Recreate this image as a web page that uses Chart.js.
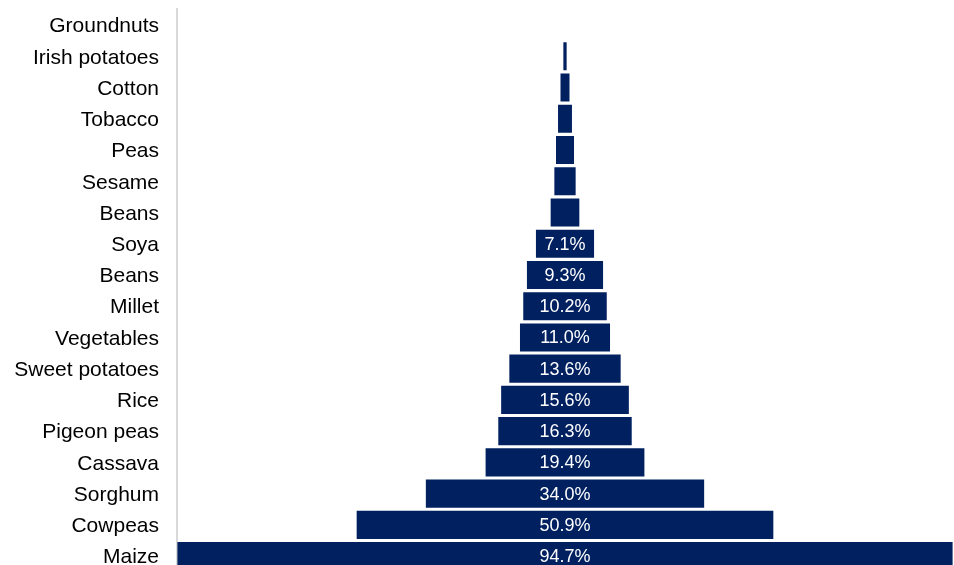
<!DOCTYPE html>
<html>
<head>
<meta charset="utf-8">
<script src="https://cdn.jsdelivr.net/npm/chart.js@4"></script>
<style>
  html, body { margin: 0; padding: 0; background: #fff; overflow: hidden; }
  canvas { display: block; }
</style>
</head>
<body>
<canvas id="funnel-chart" width="954" height="577"></canvas>
<script>
// Crops, top to bottom
const crops = ['Groundnuts', 'Irish potatoes', 'Cotton', 'Tobacco', 'Peas', 'Sesame', 'Beans', 'Soya',
  'Beans', 'Millet', 'Vegetables', 'Sweet potatoes', 'Rice', 'Pigeon peas', 'Cassava', 'Sorghum',
  'Cowpeas', 'Maize'];
// Share (%)
const shares = [0, 0.4, 1.1, 1.7, 2.2, 2.6, 3.5, 7.1, 9.3, 10.2, 11.0, 13.6, 15.6, 16.3, 19.4, 34.0, 50.9, 94.7];
// Only the larger bars carry a label
const labelMin = 7;

// Value labels drawn inside the bars
const barLabels = {
  id: 'barLabels',
  afterDatasetsDraw(chart) {
    const ctx = chart.ctx;
    const meta = chart.getDatasetMeta(0);
    ctx.save();
    ctx.font = '18px "Liberation Sans", Arial, sans-serif';
    ctx.fillStyle = '#ffffff';
    ctx.textAlign = 'center';
    ctx.textBaseline = 'middle';
    meta.data.forEach((bar, i) => {
      if (shares[i] < labelMin) return;
      const p = bar.getProps(['x', 'y', 'base'], true);
      ctx.fillText(shares[i].toFixed(1) + '%', (p.x + p.base) / 2, p.y + 1);
    });
    ctx.restore();
  }
};

function initChart() {
  const canvas = document.getElementById('funnel-chart');
  const half = shares.map(v => [-v / 2, v / 2]);
  new Chart(canvas.getContext('2d'), {
    type: 'bar',
    data: {
      labels: crops,
      datasets: [{
        data: half,
        backgroundColor: '#002060',
        borderWidth: 0,
        borderSkipped: false,
        barPercentage: 0.9,
        categoryPercentage: 1
      }]
    },
    options: {
      indexAxis: 'y',
      responsive: false,
      animation: false,
      layout: { padding: { top: 9.4, right: 1, left: 0, bottom: 0 } },
      plugins: {
        legend: { display: false },
        tooltip: { enabled: false }
      },
      scales: {
        x: {
          display: false,
          min: -47.4,
          max: 47.4
        },
        y: {
          grid: { display: false, drawTicks: true, tickLength: 18 },
          border: { display: true, color: '#d9d9d9', width: 2 },
          ticks: {
            color: '#000',
            padding: 0,
            labelOffset: 1.5,
            font: { family: '"Liberation Sans", Arial, sans-serif', size: 21, lineHeight: 0.5 }
          },
          afterFit(scale) { scale.width = 177; }
        }
      }
    },
    plugins: [barLabels]
  });
}

document.addEventListener('DOMContentLoaded', initChart);
</script>
</body>
</html>
